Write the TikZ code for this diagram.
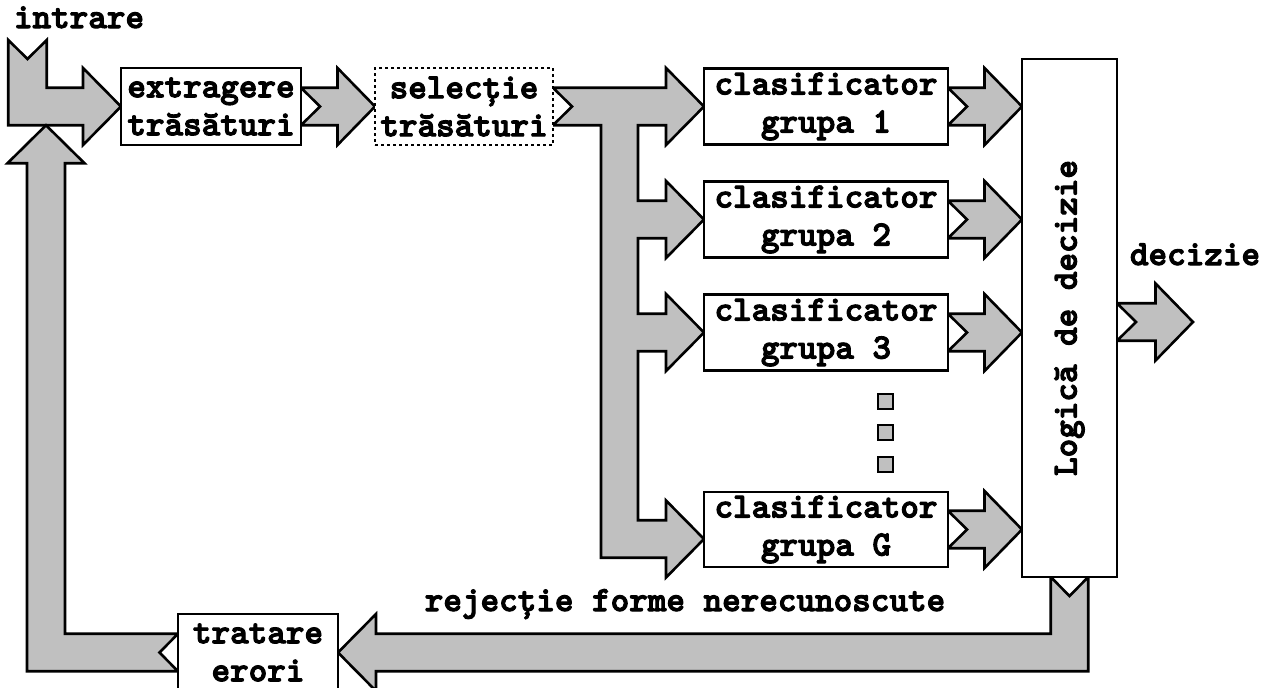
\documentclass[tikz,border=0pt]{standalone}
\usepackage{fontspec}
\newfontfamily\courbold{lmmonolt10-bold.otf}[FakeBold=3]
\usetikzlibrary{calc}
\definecolor{arrowgray}{HTML}{C0C0C0}
\newcommand\lbl{\courbold\fontsize{35.4pt}{38pt}\selectfont}
\pgfdeclarelayer{back}
\pgfdeclarelayer{arrows}
\pgfsetlayers{back,arrows,main}
\tikzset{
  blk/.style={draw=black, fill=arrowgray, line width=2.6pt, line join=miter},
  boxnode/.style={draw=black, fill=white, line width=2.6pt, inner sep=0pt,
    outer sep=0pt, align=center, font=\lbl},
  txt/.style={inner sep=0pt, outer sep=0pt, font=\lbl},
  dotbox/.style={draw=black, fill=arrowgray, line width=2pt, inner sep=0pt,
    minimum size=15pt},
}
% notched block arrow pointing right, from a tail point to a tip point
\newcommand\rarrow[2]{%
  \path[blk] let \p1=#1, \p2=#2 in
    (\x1,\y2+18.75pt) -- (\x2-37.5pt,\y2+18.75pt) -- (\x2-37.5pt,\y2+38.5pt)
    -- (\x2,\y2) -- (\x2-37.5pt,\y2-38.5pt) -- (\x2-37.5pt,\y2-18.75pt)
    -- (\x1,\y2-18.75pt) -- (\x1+19pt,\y2) -- cycle;}
\begin{document}
\begin{tikzpicture}[x=1pt,y=-1pt]
\path[use as bounding box] (0,0) rectangle (1269,688);
\clip (0,0) rectangle (1269,688);
\begin{pgfonlayer}{back}
  \fill[white] (0,0) rectangle (1269,688);
\end{pgfonlayer}

% processing blocks
\node[boxnode, minimum width=180pt, minimum height=77pt] (ext) at (211,106.5) {extragere\\trăsături};
\node[boxnode, minimum width=178pt, minimum height=77pt, dash pattern=on 3pt off 3pt] (sel) at (464,106.5) {selecție\\trăsături};
\node[boxnode, minimum width=244pt, minimum height=76pt] (c1) at (826,106.5) {clasificator\\grupa 1};
\node[boxnode, minimum width=244pt, minimum height=76pt] (c2) at (826,219.5) {clasificator\\grupa 2};
\node[boxnode, minimum width=244pt, minimum height=76pt] (c3) at (826,332.5) {clasificator\\grupa 3};
\node[boxnode, minimum width=244pt, minimum height=75pt] (cG) at (826,529.5) {clasificator\\grupa G};
\node[boxnode, minimum width=95pt, minimum height=518pt] (lg) at (1069.5,318) {};
\node[txt, rotate=90] (lgtext) at (lg.center) {Logică de decizie};
\node[boxnode, minimum width=160pt, minimum height=77pt] (trat) at (258,652.5) {tratare\\erori};

% labels
\node[txt, anchor=base] (tin) at (79,28) {intrare};
\node[txt, anchor=base] (tdec) at (1195,265) {decizie};
\node[txt, anchor=base] (trej) at (685,611) {rejecție forme nerecunoscute};

% ellipsis between the classifiers
\node[dotbox] (d1) at (885.5,401) {};
\node[dotbox] (d2) at (885.5,432.5) {};
\node[dotbox] (d3) at (885.5,464) {};

% free ends of the loop
\coordinate (in) at (27.5,40);
\coordinate (back) at (46,125.25);
\coordinate (dout) at (1193,322);
\coordinate (gin) at ($(cG.west)+(0,9.5)$);

\begin{pgfonlayer}{arrows}
  % input arrow bending into the feature extraction
  \path[blk] let \p0=(in), \p1=(ext.west) in
    (\x0-19.25pt,\y0) -- (\x0,\y0-19pt) -- (\x0+19.25pt,\y0)
    -- (\x0+19.25pt,\y1+18.75pt) -- (\x1-38pt,\y1+18.75pt) -- (\x1-38pt,\y1+38.5pt)
    -- (\x1,\y1) -- (\x1-38pt,\y1-38.5pt) -- (\x1-38pt,\y1-18.75pt)
    -- (\x0-19.25pt,\y1-18.75pt) -- cycle;
  \rarrow{(ext.east)}{(sel.west)}
  % distribution to the classifiers
  \path[blk] let \p0=(sel.east), \p1=(c1.west), \p2=(c2.west), \p3=(c3.west), \p4=(gin) in
    (\x0,\y0+18.75pt) -- (\x1-38pt,\y1+18.75pt) -- (\x1-38pt,\y1+38.5pt) -- (\x1,\y1)
    -- (\x1-38pt,\y1-38.5pt) -- (\x1-38pt,\y1-18.75pt) -- (\x0+85pt,\y1-18.75pt)
    -- (\x0+85pt,\y2+18.75pt) -- (\x2-38pt,\y2+18.75pt) -- (\x2-38pt,\y2+38.5pt) -- (\x2,\y2)
    -- (\x2-38pt,\y2-38.5pt) -- (\x2-38pt,\y2-18.75pt) -- (\x0+85pt,\y2-18.75pt)
    -- (\x0+85pt,\y3+18.75pt) -- (\x3-38pt,\y3+18.75pt) -- (\x3-38pt,\y3+38.5pt) -- (\x3,\y3)
    -- (\x3-38pt,\y3-38.5pt) -- (\x3-38pt,\y3-18.75pt) -- (\x0+85pt,\y3-18.75pt)
    -- (\x0+85pt,\y4+18.75pt) -- (\x4-38pt,\y4+18.75pt) -- (\x4-38pt,\y4+38.5pt) -- (\x4,\y4)
    -- (\x4-38pt,\y4-38.5pt) -- (\x4-38pt,\y4-18.75pt) -- (\x0+48pt,\y4-18.75pt)
    -- (\x0+48pt,\y0-18.75pt) -- (\x0,\y0-18.75pt) -- (\x0+19pt,\y0) -- cycle;
  % classifier outputs
  \rarrow{(c1.east)}{(c1.east -| lg.west)}
  \rarrow{(c2.east)}{(c2.east -| lg.west)}
  \rarrow{(c3.east)}{(c3.east -| lg.west)}
  \rarrow{(cG.east)}{(cG.east -| lg.west)}
  % decision output
  \rarrow{(lg.east |- dout)}{(dout)}
  % rejection of unrecognised patterns
  \path[blk] let \p0=(lg.south), \p1=(trat.east) in
    (\x0-18.75pt,\y0) -- (\x0,\y0-19pt) -- (\x0+18.75pt,\y0)
    -- (\x0+18.75pt,\y1-18.75pt) -- (\x1+38pt,\y1-18.75pt) -- (\x1+38pt,\y1-38.5pt)
    -- (\x1,\y1) -- (\x1+38pt,\y1+38.5pt) -- (\x1+38pt,\y1+18.75pt)
    -- (\x0-18.75pt,\y1+18.75pt) -- cycle;
  % error handling feeding back to the input
  \path[blk] let \p0=(trat.west), \p1=(back) in
    (\x0,\y0+18.75pt) -- (\x1+19pt,\y0+18.75pt) -- (\x1+19pt,\y1-38pt)
    -- (\x1+38.5pt,\y1-38pt) -- (\x1,\y1) -- (\x1-38.5pt,\y1-38pt)
    -- (\x1-19pt,\y1-38pt) -- (\x1-19pt,\y0-18.75pt) -- (\x0,\y0-18.75pt)
    -- (\x0-18.5pt,\y0) -- cycle;
\end{pgfonlayer}
\end{tikzpicture}
\end{document}
